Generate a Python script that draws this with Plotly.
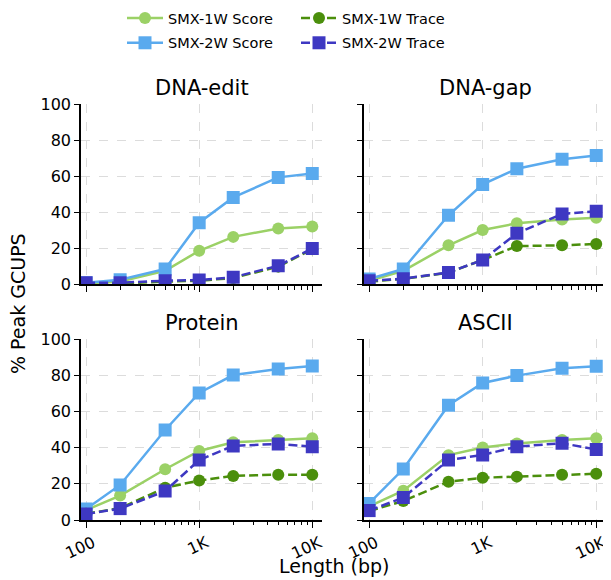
import plotly.graph_objects as go
from plotly.subplots import make_subplots

lengths = [100, 200, 500, 1000, 2000, 5000, 10000]
panels = ["DNA-edit", "DNA-gap", "Protein", "ASCII"]
series_names = ["SMX-1W Score", "SMX-2W Score", "SMX-1W Trace", "SMX-2W Trace"]

dna_edit_1w_score = [0.5, 1.5, 7.5, 18.6, 26.3, 31.0, 32.0]
dna_edit_2w_score = [0.9, 2.5, 8.5, 34.2, 48.2, 59.3, 61.5]
dna_edit_1w_trace = [0.3, 0.5, 1.5, 2.0, 3.5, 9.8, 19.5]
dna_edit_2w_trace = [0.8, 0.9, 2.0, 2.4, 3.9, 10.3, 19.8]

dna_gap_1w_score = [2.0, 7.5, 21.6, 30.1, 33.8, 36.0, 36.9]
dna_gap_2w_score = [2.9, 8.5, 38.3, 55.4, 64.1, 69.3, 71.5]
dna_gap_1w_trace = [1.5, 3.0, 6.5, 13.5, 21.2, 21.6, 22.4]
dna_gap_2w_trace = [2.0, 3.1, 6.6, 13.5, 28.3, 39.0, 40.5]

protein_1w_score = [5.5, 13.5, 28.1, 38.2, 43.0, 44.3, 45.2]
protein_2w_score = [6.1, 19.4, 49.8, 70.3, 80.2, 83.6, 85.2]
protein_1w_trace = [3.5, 6.5, 17.9, 21.8, 24.4, 25.1, 25.1]
protein_2w_trace = [3.3, 6.3, 16.0, 33.2, 41.0, 42.1, 40.6]

ascii_1w_score = [7.5, 16.2, 35.9, 40.1, 42.3, 44.3, 45.2]
ascii_2w_score = [9.2, 28.2, 63.5, 75.8, 79.9, 84.0, 85.1]
ascii_1w_trace = [5.0, 10.5, 21.2, 23.4, 24.0, 25.0, 25.6]
ascii_2w_trace = [5.2, 12.4, 33.2, 36.0, 40.6, 42.5, 39.0]

x_tickvals = [100, 1000, 10000]
x_ticktext = ["100", "1K", "10K"]
y_tickvals = [0, 20, 40, 60, 80, 100]
minor_vals = [200, 300, 400, 500, 600, 700, 800, 900,
              2000, 3000, 4000, 5000, 6000, 7000, 8000, 9000]

data = {
    "DNA-edit": [dna_edit_1w_score, dna_edit_2w_score, dna_edit_1w_trace, dna_edit_2w_trace],
    "DNA-gap": [dna_gap_1w_score, dna_gap_2w_score, dna_gap_1w_trace, dna_gap_2w_trace],
    "Protein": [protein_1w_score, protein_2w_score, protein_1w_trace, protein_2w_trace],
    "ASCII": [ascii_1w_score, ascii_2w_score, ascii_1w_trace, ascii_2w_trace],
}

colors = ["#9bd166", "#5aaaee", "#4b8f0c", "#3e38c2"]
symbols = ["circle", "square", "circle", "square"]
msizes = [12, 13, 12, 13]
dashes = ["solid", "solid", "9px,4px", "9px,4px"]
legends = ["legend", "legend", "legend2", "legend2"]

FONT = "DejaVu Sans"
fig = make_subplots(rows=2, cols=2)

for pi, name in enumerate(panels):
    r, c = pi // 2 + 1, pi % 2 + 1
    for si, sname in enumerate(series_names):
        fig.add_trace(go.Scatter(
            x=lengths, y=data[name][si], mode="lines+markers", name=sname,
            line=dict(color=colors[si], width=2.5, dash=dashes[si]),
            marker=dict(symbol=symbols[si], size=msizes[si], color=colors[si]),
            showlegend=(pi == 0), legend=legends[si], legendgroup=sname,
        ), row=r, col=c)

# page has an 8px body margin; work in page pixels and convert
OFF = 8
W, H = 611 - OFF, 580 - OFF
L, R, T, B = 81 - OFF, 5, 104 - OFF, 60
pw, ph = W - L - R, H - T - B


def px_x(p):  # page pixel x -> paper
    return (p - OFF - L) / pw


def px_y(p):  # page pixel y -> paper
    return (H - B - (p - OFF)) / ph


xdom = [[px_x(81), px_x(322)], [px_x(364), 1]]
ydom = [[px_y(284.3), 1], [0, px_y(339.3)]]

grid = "#dcdcdc"
for pi in range(4):
    r, c = pi // 2 + 1, pi % 2 + 1
    fig.update_xaxes(
        type="log", range=[1.955, 4.086], domain=xdom[c - 1],
        tickmode="array", tickvals=x_tickvals, ticktext=x_ticktext,
        showticklabels=(r == 2), tickangle=-25, ticklabelshift=7,
        ticklabeloverflow="allow",
        ticks="outside", ticklen=6, tickwidth=1.2, tickcolor="black",
        showline=True, linecolor="black", linewidth=1.5,
        showgrid=True, gridcolor=grid, griddash="dash", gridwidth=1,
        zeroline=False, automargin=False,
        minor=dict(tickmode="array", tickvals=minor_vals, ticks="outside",
                   ticklen=3.5, tickwidth=1, tickcolor="black", showgrid=False),
        tickfont=dict(family=FONT, size=16, color="black"),
        row=r, col=c)
    fig.update_yaxes(
        range=[0, 100], domain=ydom[r - 1],
        tickmode="array", tickvals=y_tickvals,
        showticklabels=(c == 1),
        ticks="outside", ticklen=5, tickwidth=1.2, tickcolor="black",
        showline=True, linecolor="black", linewidth=1.5,
        showgrid=True, gridcolor=grid, griddash="dash", gridwidth=1,
        zeroline=False, automargin=False,
        tickfont=dict(family=FONT, size=16, color="black"),
        row=r, col=c)

annotations = []
for pi, name in enumerate(panels):
    r, c = pi // 2 + 1, pi % 2 + 1
    annotations.append(dict(
        text=name, xref="paper", yref="paper",
        x=sum(xdom[c - 1]) / 2, y=ydom[r - 1][1], xanchor="center", yanchor="bottom",
        yshift=2, showarrow=False, font=dict(family=FONT, size=21, color="black")))
annotations.append(dict(
    text="% Peak GCUPS", xref="paper", yref="paper",
    x=px_x(18), y=px_y(304), xanchor="center", yanchor="middle",
    textangle=-90, showarrow=False, font=dict(family=FONT, size=19, color="black")))
annotations.append(dict(
    text="Length (bp)", xref="paper", yref="paper",
    x=px_x(334), y=px_y(566), xanchor="center", yanchor="middle",
    showarrow=False, font=dict(family=FONT, size=19, color="black")))

leg_common = dict(yref="paper", xref="paper", xanchor="left", yanchor="top",
                  orientation="v", tracegroupgap=3, itemwidth=36,
                  font=dict(family=FONT, size=14.5, color="black"),
                  bgcolor="rgba(0,0,0,0)")
fig.update_layout(
    width=W, height=H, margin=dict(l=L, r=R, t=T, b=B, autoexpand=False),
    paper_bgcolor="white", plot_bgcolor="white",
    font=dict(family=FONT, size=14, color="black"),
    annotations=annotations,
    legend=dict(x=px_x(122), y=px_y(2), **leg_common),
    legend2=dict(x=px_x(296), y=px_y(2), **leg_common),
)

fig.write_html("out.html")
